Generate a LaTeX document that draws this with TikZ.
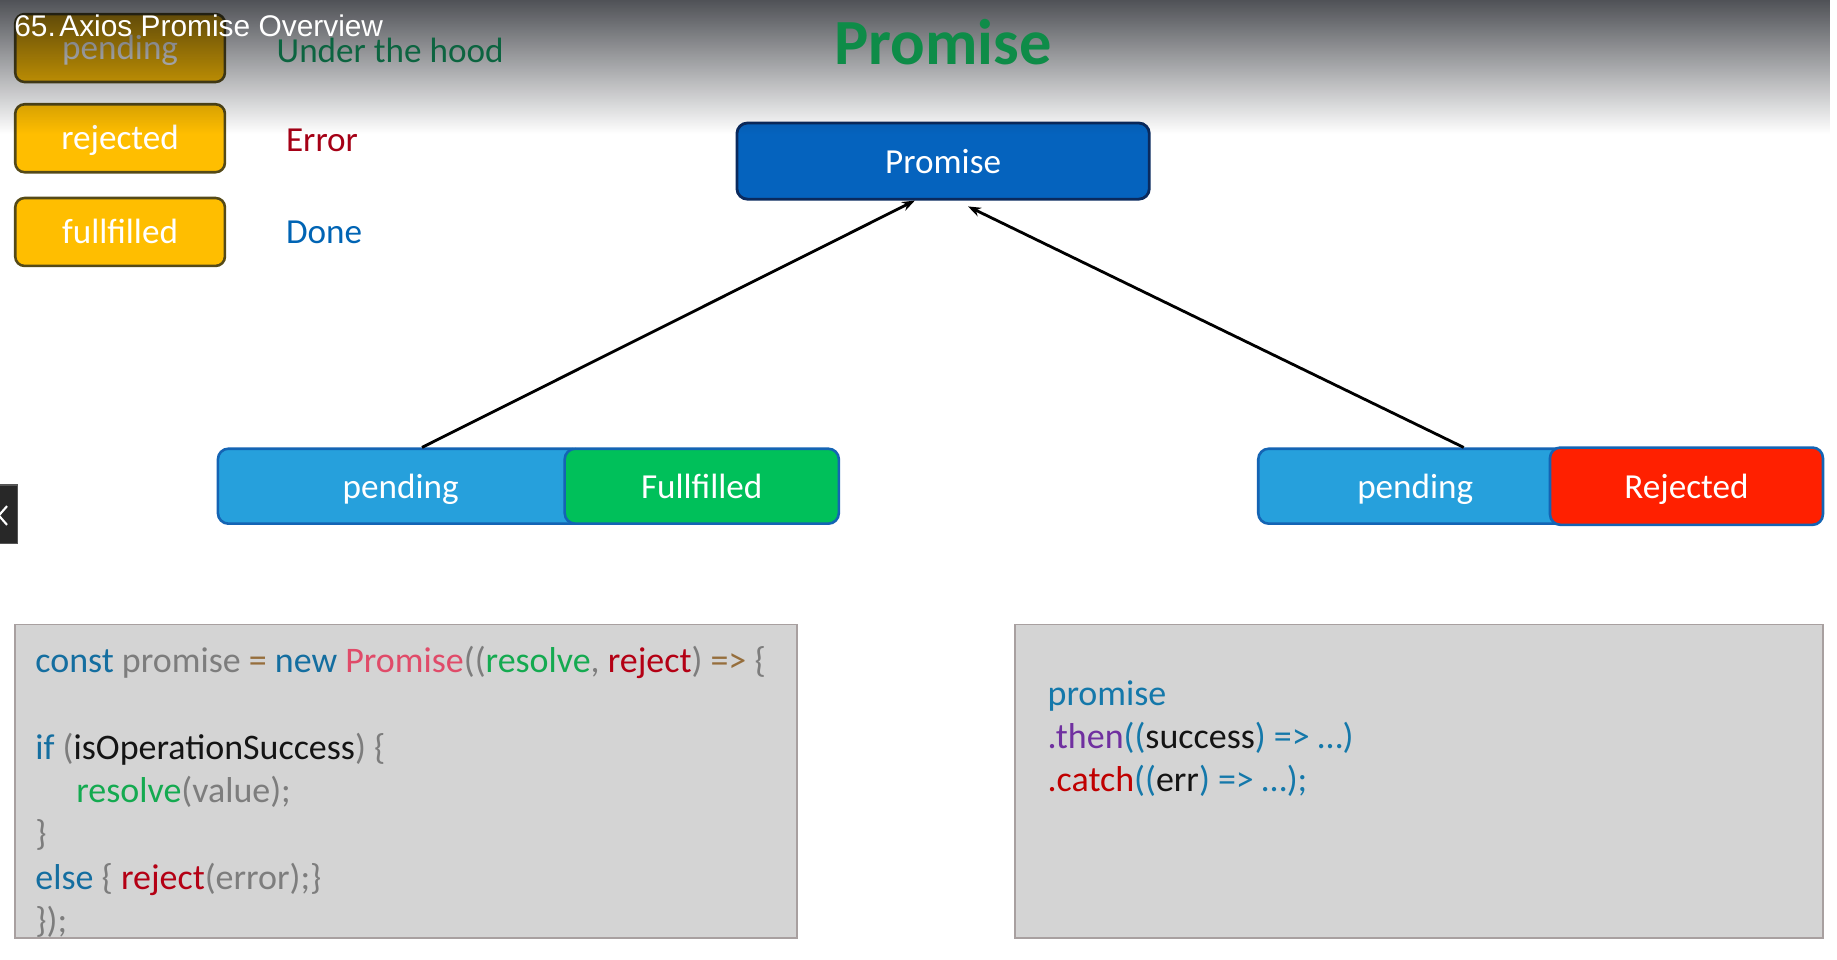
\documentclass[tikz,border=0pt]{standalone}
\usepackage{fontspec}
\setmainfont{Carlito}
\newfontfamily\ovfont{Liberation Sans}
\usetikzlibrary{fadings,arrows.meta,calc}
\tikzfading[name=topfade, top color=transparent!30, middle color=transparent!78, bottom color=transparent!100]
\definecolor{gold}{HTML}{FFBE00}
\definecolor{goldline}{HTML}{554A18}
\definecolor{uhgreen}{HTML}{0C6440}
\definecolor{errred}{HTML}{A50016}
\definecolor{doneblue}{HTML}{0064B4}
\definecolor{titlegreen}{HTML}{0E8C48}
\definecolor{promfill}{HTML}{0563BE}
\definecolor{promline}{HTML}{0A2A5E}
\definecolor{pendfill}{HTML}{26A0DC}
\definecolor{pendline}{HTML}{1464B4}
\definecolor{fullfill}{HTML}{00C05A}
\definecolor{rejfill}{HTML}{FF2000}
\definecolor{codefill}{HTML}{D4D4D4}
\definecolor{codeline}{HTML}{A8A0A0}
\definecolor{ckw}{HTML}{146EA0}
\definecolor{cgr}{HTML}{7D7D7D}
\definecolor{cbr}{HTML}{966E3C}
\definecolor{cpk}{HTML}{E04B69}
\definecolor{cgn}{HTML}{14AA50}
\definecolor{crd}{HTML}{B40014}
\definecolor{cbk}{HTML}{141414}
\definecolor{cbl}{HTML}{1478AA}
\definecolor{cpu}{HTML}{7030A0}
\definecolor{ccr}{HTML}{C00000}
\definecolor{ovc}{HTML}{05080F}
\definecolor{btnfill}{HTML}{282828}
\definecolor{btnline}{HTML}{555555}
\begin{document}
\begin{tikzpicture}[x=1pt,y=-1pt,
  basefont/.style={font=\fontsize{30}{36}\selectfont},
  codefont/.style={font=\fontsize{30.7}{37}\selectfont},
  legbox/.style={basefont, draw=goldline, fill=gold, line width=2.2pt, rounded corners=8pt,
    minimum width=179pt, minimum height=58pt, text=white, text height=23pt, text depth=4pt, inner sep=0pt},
  statebox/.style={basefont, draw=pendline, line width=2.2pt, rounded corners=9pt,
    minimum height=64pt, text=white, text height=24pt, text depth=3pt, inner sep=0pt},
  codebox/.style={draw=codeline, fill=codefill, line width=1.6pt, inner sep=0pt},
  codeline/.style={codefont, anchor=base west, inner sep=0pt},
  legtext/.style={basefont, anchor=base west, inner sep=0pt},
  arr/.style={-{Stealth[length=11pt,width=8pt]}, line width=2.4pt, black}
]
\useasboundingbox (0,0) rectangle (1568,819);
\fill[white] (0,0) rectangle (1568,819);

% legend
\node[legbox] (lpend) at (102.5,41) {pending};
\node[legbox] (lrej) at (102.5,118) {rejected};
\node[legbox] (lful) at (102.5,198) {fullfilled};
\node[legtext, text=errred] (terr) at (244,129) {Error};
\node[legtext, text=doneblue] (tdone) at (244,208) {Done};

% promise node
\node[basefont, draw=promline, fill=promfill, line width=2.4pt, rounded corners=9pt,
  minimum width=352pt, minimum height=65pt, text=white, text height=24pt, text depth=3pt,
  inner sep=0pt] (prom) at (805,137.5) {Promise};

% state boxes
\node[statebox, fill=pendfill, minimum width=312pt] (pendL) at (342,415) {pending};
\node[statebox, fill=fullfill, minimum width=234pt] (full) at (599,415) {Fullfilled};
\node[statebox, fill=pendfill, minimum width=268pt] (pendR) at (1208,415) {pending};
\node[statebox, fill=rejfill, minimum width=233pt, minimum height=66pt] (rej) at (1439.5,415) {Rejected};

% connectors
\coordinate (s1) at ($(pendL.north west)!0.558!(pendL.north east)$);
\coordinate (t1) at ($(prom.south west)!0.432!(prom.south east)$);
\coordinate (s2) at ($(pendR.north west)!0.653!(pendR.north east)$);
\coordinate (t2) at ([yshift=-5pt]$(prom.south west)!0.56!(prom.south east)$);
\draw[arr] (s1) -- (t1);
\draw[arr] (s2) -- (t2);

% code boxes
\node[codebox, minimum width=667pt, minimum height=268pt] (codeL) at (346.5,667) {};
\node[codebox, minimum width=690pt, minimum height=268pt] (codeR) at (1211,667) {};

\node[codeline] (l1) at (30,574) {\textcolor{ckw}{const} \textcolor{cgr}{promise} \textcolor{cbr}{=} \textcolor{ckw}{new} \textcolor{cpk}{Promise}\textcolor{cgr}{((}\textcolor{cgn}{resolve}\textcolor{cgr}{,} \textcolor{crd}{reject}\textcolor{cgr}{)} \textcolor{cbr}{=>} \textcolor{cgr}{\{}};
\node[codeline] (l2) at (30,648) {\textcolor{ckw}{if} \textcolor{cgr}{(}\textcolor{cbk}{isOperationSuccess}\textcolor{cgr}{) \{}};
\node[codeline] (l3) at (65,685) {\textcolor{cgn}{resolve}\textcolor{cgr}{(value);}};
\node[codeline] (l4) at (30,722) {\textcolor{cgr}{\}}};
\node[codeline] (l5) at (30,759) {\textcolor{ckw}{else} \textcolor{cgr}{\{} \textcolor{crd}{reject}\textcolor{cgr}{(error);\}}};
\node[codeline] (l6) at (30,796) {\textcolor{cgr}{\});}};

\node[codeline] (r1) at (894,602) {\textcolor{cbl}{promise}};
\node[codeline] (r2) at (894,639) {\textcolor{cpu}{.then}\textcolor{cbl}{((}\textcolor{cbk}{success}\textcolor{cbl}{) => …)}};
\node[codeline] (r3) at (894,676) {\textcolor{ccr}{.catch}\textcolor{cbl}{((}\textcolor{cbk}{err}\textcolor{cbl}{) => …);}};

% player side button
\fill[btnfill, draw=btnline, line width=1pt] (-2,414) rectangle (15,464);
\draw[white, line width=1.8pt] (6,432) -- (-1,440) -- (6,448);

% top gradient overlay of the video player
\fill[ovc, path fading=topfade] (0,0) rectangle (1568,114);

% texts over the gradient
\node[legtext, text=uhgreen] (tuh) at (236,53) {Under the hood};
\node[font=\bfseries\fontsize{55}{60}\selectfont, text=titlegreen, anchor=base, inner sep=0pt] (title) at (805,55) {Promise};
\node[font=\ovfont\fontsize{25.5}{30}\selectfont, text=white, anchor=base west, inner sep=0pt] (ttl) at (12,31) {65.\hspace{0.12em}Axios Promise Overview};
\end{tikzpicture}
\end{document}
